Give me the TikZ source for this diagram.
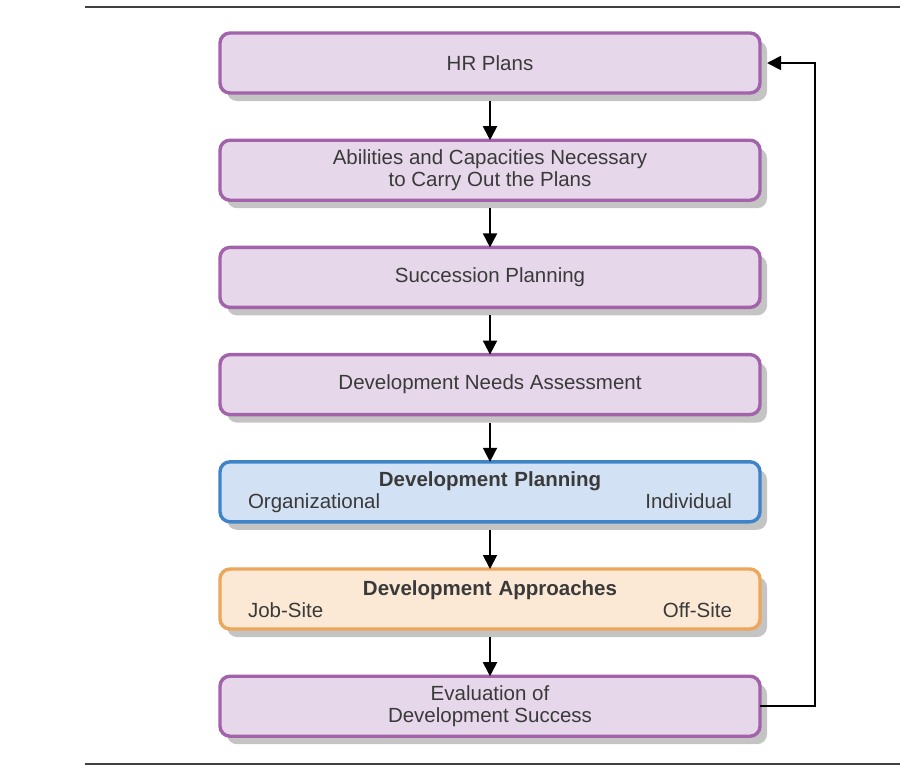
\documentclass[tikz,border=0pt]{standalone}
\usepackage{fontspec}
\setmainfont{Liberation Sans}
\usepackage{tikz}
\usetikzlibrary{positioning}
\usetikzlibrary{arrows.meta}
\usetikzlibrary{shadows}
\definecolor{planfill}{HTML}{E6D7EA}
\definecolor{planedge}{HTML}{A263AB}
\definecolor{orgfill}{HTML}{D2E1F3}
\definecolor{orgedge}{HTML}{3F84C6}
\definecolor{sitefill}{HTML}{FBE9D5}
\definecolor{siteedge}{HTML}{EDA65A}
\definecolor{stepshadow}{HTML}{C4C4C4}
\definecolor{steptext}{HTML}{3A3A3A}
\tikzset{stepbox/.style={rectangle,rounded corners=5pt,draw=planedge,fill=planfill,
line width=1.7pt,minimum height=30pt, minimum width=270pt,inner sep=2pt,outer sep=0pt,
align=center,text=steptext,font=\fontsize{10.25}{11}\selectfont,
drop shadow={shadow xshift=3.5pt,shadow yshift=-4pt,fill=stepshadow,opacity=1}}}
\tikzset{planbox/.style={stepbox,draw=orgedge,fill=orgfill,text width=242pt}}
\tikzset{sitebox/.style={stepbox,draw=siteedge,fill=sitefill,text width=242pt}}
\tikzset{flow/.style={line width=0.9pt,-{Triangle[length=7pt,width=7pt]}}}
\tikzset{rule/.style={line width=0.8pt,draw=black!75}}

\begin{document}
\begin{tikzpicture}[node distance=23.6pt]
    \useasboundingbox (0,0) rectangle (460pt,-389pt);

    % rules above and below
    \draw[rule] (42.5pt,-3.5pt) -- (450pt,-3.5pt);
    \draw[rule] (42.5pt,-382pt) -- (450pt,-382pt);

    \node[stepbox] (hrplans) at (245pt,-31.5pt) {HR Plans};
    \node[stepbox] (abilities) [below=of hrplans] {Abilities and Capacities Necessary\\to Carry Out the Plans};
    \node[stepbox] (succession) [below=of abilities] {Succession Planning};
    \node[stepbox] (needs) [below=of succession] {Development Needs Assessment};
    \node[planbox] (planning) [below=of needs] {\textbf{Development Planning}\\Organizational\hfill Individual};
    \node[sitebox] (approaches) [below=of planning] {\textbf{Development Approaches}\\Job-Site\hfill Off-Site};
    \node[stepbox] (evaluation) [below=of approaches] {Evaluation of\\Development Success};

    \draw [flow] ([yshift=-4pt]hrplans.south) -- (abilities.north);
    \draw [flow] ([yshift=-4pt]abilities.south) -- (succession.north);
    \draw [flow] ([yshift=-4pt]succession.south) -- (needs.north);
    \draw [flow] ([yshift=-4pt]needs.south) -- (planning.north);
    \draw [flow] ([yshift=-4pt]planning.south) -- (approaches.north);
    \draw [flow] ([yshift=-4pt]approaches.south) -- (evaluation.north);

    % feedback loop back to the top
    \coordinate (loopturn) at ([xshift=27.5pt]evaluation.east);
    \draw [flow] (evaluation.east) -- (loopturn) |- ([xshift=3.5pt]hrplans.east);

\end{tikzpicture}
\end{document}
